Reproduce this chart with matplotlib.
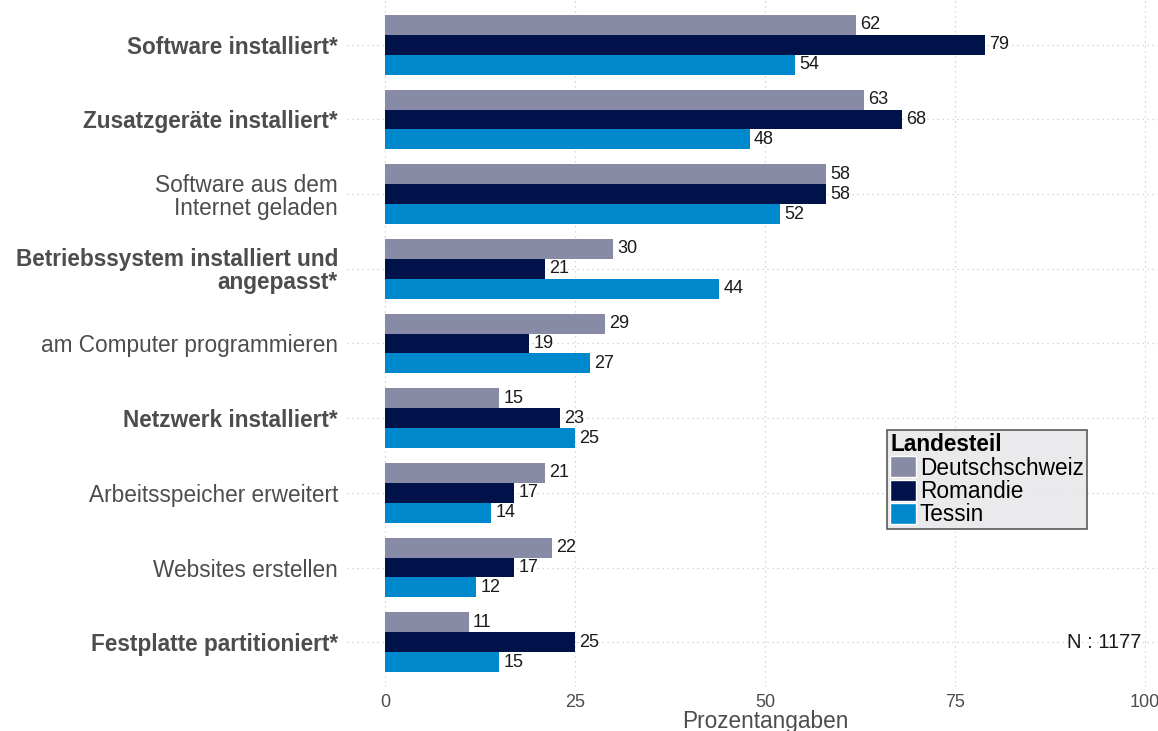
import matplotlib
matplotlib.use("Agg")
import matplotlib.pyplot as plt
from matplotlib.patches import Patch
import numpy as np

plt.rcParams['font.family'] = ['Liberation Sans', 'DejaVu Sans']

categories = [
    "Software installiert*",
    "Zusatzgeräte installiert*",
    "Software aus dem\nInternet geladen",
    "Betriebssystem installiert und\nangepasst*",
    "am Computer programmieren",
    "Netzwerk installiert*",
    "Arbeitsspeicher erweitert",
    "Websites erstellen",
    "Festplatte partitioniert*",
]
bold_flags = [True, True, False, True, False, True, False, False, True]
series_names = ["Deutschschweiz", "Romandie", "Tessin"]
deutschschweiz = [62, 63, 58, 30, 29, 15, 21, 22, 11]
romandie = [79, 68, 58, 21, 19, 23, 17, 17, 25]
tessin = [54, 48, 52, 44, 27, 25, 14, 12, 15]
colors = ["#888ba5", "#00124a", "#0088cc"]
x_ticks = [0, 25, 50, 75, 100]
n_text = "N : 1177"

W, H = 1158, 731
fig = plt.figure(figsize=(W / 100, H / 100), dpi=100)
left_px, right_px = 347, 1183
top_px, bot_px = 0, 687
ax = fig.add_axes([left_px / W, 1 - bot_px / H, (right_px - left_px) / W, (bot_px - top_px) / H])

n = len(categories)
y = np.arange(n)
bw = 0.8 / 3
series = [deutschschweiz, romandie, tessin]
for i, (vals, col, name) in enumerate(zip(series, colors, series_names)):
    pos = y - bw + i * bw
    ax.barh(pos, vals, height=bw, color=col, label=name, zorder=2)
    for p, v in zip(pos, vals):
        ax.annotate(str(v), (v, p), xytext=(3, 0), textcoords='offset points',
                    ha='left', va='center', fontsize=13, color='#1a1a1a', zorder=3)

ax.set_xlim(-5, 105)
ax.set_ylim(n - 1 + 0.6, -0.6)
ax.set_xticks(x_ticks)
ax.set_xticklabels([str(t) for t in x_ticks])
ax.set_yticks(y)
ax.set_yticklabels(categories)
for lbl, b in zip(ax.get_yticklabels(), bold_flags):
    lbl.set_fontweight('bold' if b else 'normal')
    lbl.set_fontsize(16.3)
    lbl.set_color('#4d4d4d')
    lbl.set_linespacing(1.0)
ax.tick_params(axis='y', length=0, pad=6.5)
ax.tick_params(axis='x', length=0, pad=5, labelsize=13, labelcolor='#4d4d4d')
for s in ax.spines.values():
    s.set_visible(False)
ax.grid(True, which='major', axis='both', linestyle=(0, (1, 3)), color='#cccccc', linewidth=0.9, zorder=0)
ax.set_axisbelow(True)
ax.set_xlabel("Prozentangaben", fontsize=16.3, color='#4d4d4d', labelpad=-1)

ax.text(99.5, n - 1, n_text, ha='right', va='center', fontsize=14.5, color='#1a1a1a')

handles = [Patch(facecolor=c, edgecolor='white', linewidth=1) for c in colors]
leg = fig.legend(handles, series_names, title="Landesteil", loc='upper left',
                 bbox_to_anchor=(887 / W, 1 - 430 / H), fontsize=16.3,
                 title_fontproperties={'weight': 'bold', 'size': 16.3},
                 alignment='left', frameon=True, fancybox=False,
                 handlelength=1.15, handleheight=1.05, handletextpad=0.15,
                 labelspacing=0.0, borderpad=0.15, borderaxespad=0)
leg.get_frame().set_facecolor('#e5e5e8')
leg.get_frame().set_edgecolor('#333333')
leg.get_frame().set_linewidth(1.2)

fig.savefig("out.png", dpi=100)
